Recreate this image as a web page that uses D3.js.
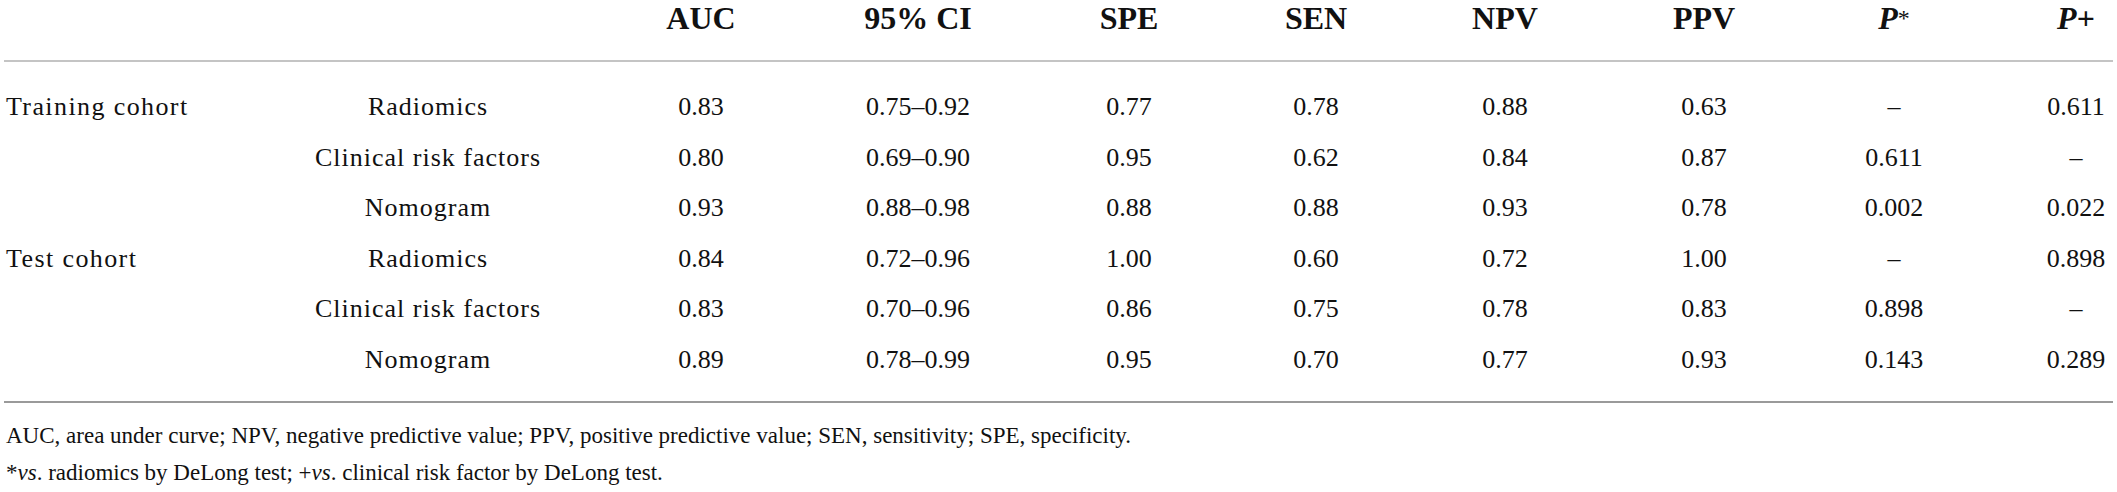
<!DOCTYPE html>
<html>
<head>
<meta charset="utf-8">
<script src="https://cdn.jsdelivr.net/npm/d3@7"></script>
<style>
  html, body { margin: 0; padding: 0; background: #fff; }
  svg text { font-family: "Liberation Serif", "DejaVu Serif", serif; fill: #111; }
</style>
</head>
<body>
<svg id="chart"></svg>
<script>
"use strict"

// table content
const headers = ["AUC", "95% CI", "SPE", "SEN", "NPV", "PPV", "P*", "P+"]
const cohorts = ["Training cohort", "", "", "Test cohort", "", ""]
const models = ["Radiomics", "Clinical risk factors", "Nomogram", "Radiomics", "Clinical risk factors", "Nomogram"]
const auc = ["0.83", "0.80", "0.93", "0.84", "0.83", "0.89"]
const ci95 = ["0.75–0.92", "0.69–0.90", "0.88–0.98", "0.72–0.96", "0.70–0.96", "0.78–0.99"]
const spe = ["0.77", "0.95", "0.88", "1.00", "0.86", "0.95"]
const sen = ["0.78", "0.62", "0.88", "0.60", "0.75", "0.70"]
const npv = ["0.88", "0.84", "0.93", "0.72", "0.78", "0.77"]
const ppv = ["0.63", "0.87", "0.78", "1.00", "0.83", "0.93"]
const pStar = ["–", "0.611", "0.002", "–", "0.898", "0.143"]
const pPlus = ["0.611", "–", "0.022", "0.898", "–", "0.289"]
const footnotes = [
    [["AUC, area under curve; NPV, negative predictive value; PPV, positive predictive value; SEN, sensitivity; SPE, specificity.", false]],
    [["*", false], ["vs", true], [". radiomics by DeLong test; +", false], ["vs", true], [". clinical risk factor by DeLong test.", false]]
]

const columns = [auc, ci95, spe, sen, npv, ppv, pStar, pPlus]

// layout
const width = 2117, height = 492
const colX = [701, 918, 1129, 1316, 1505, 1704, 1894, 2076]
const cohortX = 6, modelX = 428
const headerY = 29
const fontBody = 26, fontHead = 32, fontNote = 23

const svg = d3.select("#chart")
    .attr("width", width)
    .attr("height", height)

const rowScale = d3.scalePoint()
    .domain(d3.range(models.length))
    .range([115, 368])

const colScale = d3.scaleOrdinal()
    .domain(headers)
    .range(colX)

// header
const head = svg.append("g").attr("class", "header")
head.selectAll("text")
    .data(headers)
    .enter()
    .append("text")
    .attr("x", d => colScale(d))
    .attr("y", headerY)
    .attr("text-anchor", "middle")
    .style("font-size", fontHead + "px")
    .style("font-weight", "bold")
    .each(function (d) {
        const t = d3.select(this)
        if (d === "P*") {
            t.append("tspan").style("font-style", "italic").text("P")
            t.append("tspan").style("font-weight", "normal").attr("dy", -3).style("font-size", "24px").text("*")
        } else if (d === "P+") {
            t.append("tspan").style("font-style", "italic").text("P")
            t.append("tspan").text("+")
        } else {
            t.text(d)
        }
    })

// rules
svg.append("line")
    .attr("x1", 4).attr("x2", width - 4)
    .attr("y1", 61).attr("y2", 61)
    .style("stroke", "#c4c4c4").style("stroke-width", 2)

svg.append("line")
    .attr("x1", 4).attr("x2", width - 4)
    .attr("y1", 402).attr("y2", 402)
    .style("stroke", "#9a9a9a").style("stroke-width", 2)

// body
const body = svg.append("g").attr("class", "body")

body.selectAll(".cohort")
    .data(cohorts)
    .enter()
    .append("text")
    .attr("class", "cohort")
    .attr("x", cohortX)
    .attr("y", (d, i) => rowScale(i))
    .style("font-size", fontBody + "px")
    .style("letter-spacing", "1.4px")
    .text(d => d)

body.selectAll(".model")
    .data(models)
    .enter()
    .append("text")
    .attr("class", "model")
    .attr("x", modelX)
    .attr("y", (d, i) => rowScale(i))
    .attr("text-anchor", "middle")
    .style("font-size", fontBody + "px")
    .style("letter-spacing", "1px")
    .text(d => d)

columns.forEach((col, c) => {
    body.selectAll(".col" + c)
        .data(col)
        .enter()
        .append("text")
        .attr("class", "col" + c)
        .attr("x", colScale(headers[c]))
        .attr("y", (d, i) => rowScale(i))
        .attr("text-anchor", "middle")
        .style("font-size", fontBody + "px")
        .text(d => d)
})

// footnotes
const notes = svg.append("g").attr("class", "notes")
notes.selectAll("text")
    .data(footnotes)
    .enter()
    .append("text")
    .attr("x", 6)
    .attr("y", (d, i) => 443 + i * 37)
    .style("font-size", fontNote + "px")
    .each(function (parts) {
        const t = d3.select(this)
        parts.forEach(p => {
            t.append("tspan")
                .style("font-style", p[1] ? "italic" : "normal")
                .text(p[0])
        })
    })
</script>
</body>
</html>
